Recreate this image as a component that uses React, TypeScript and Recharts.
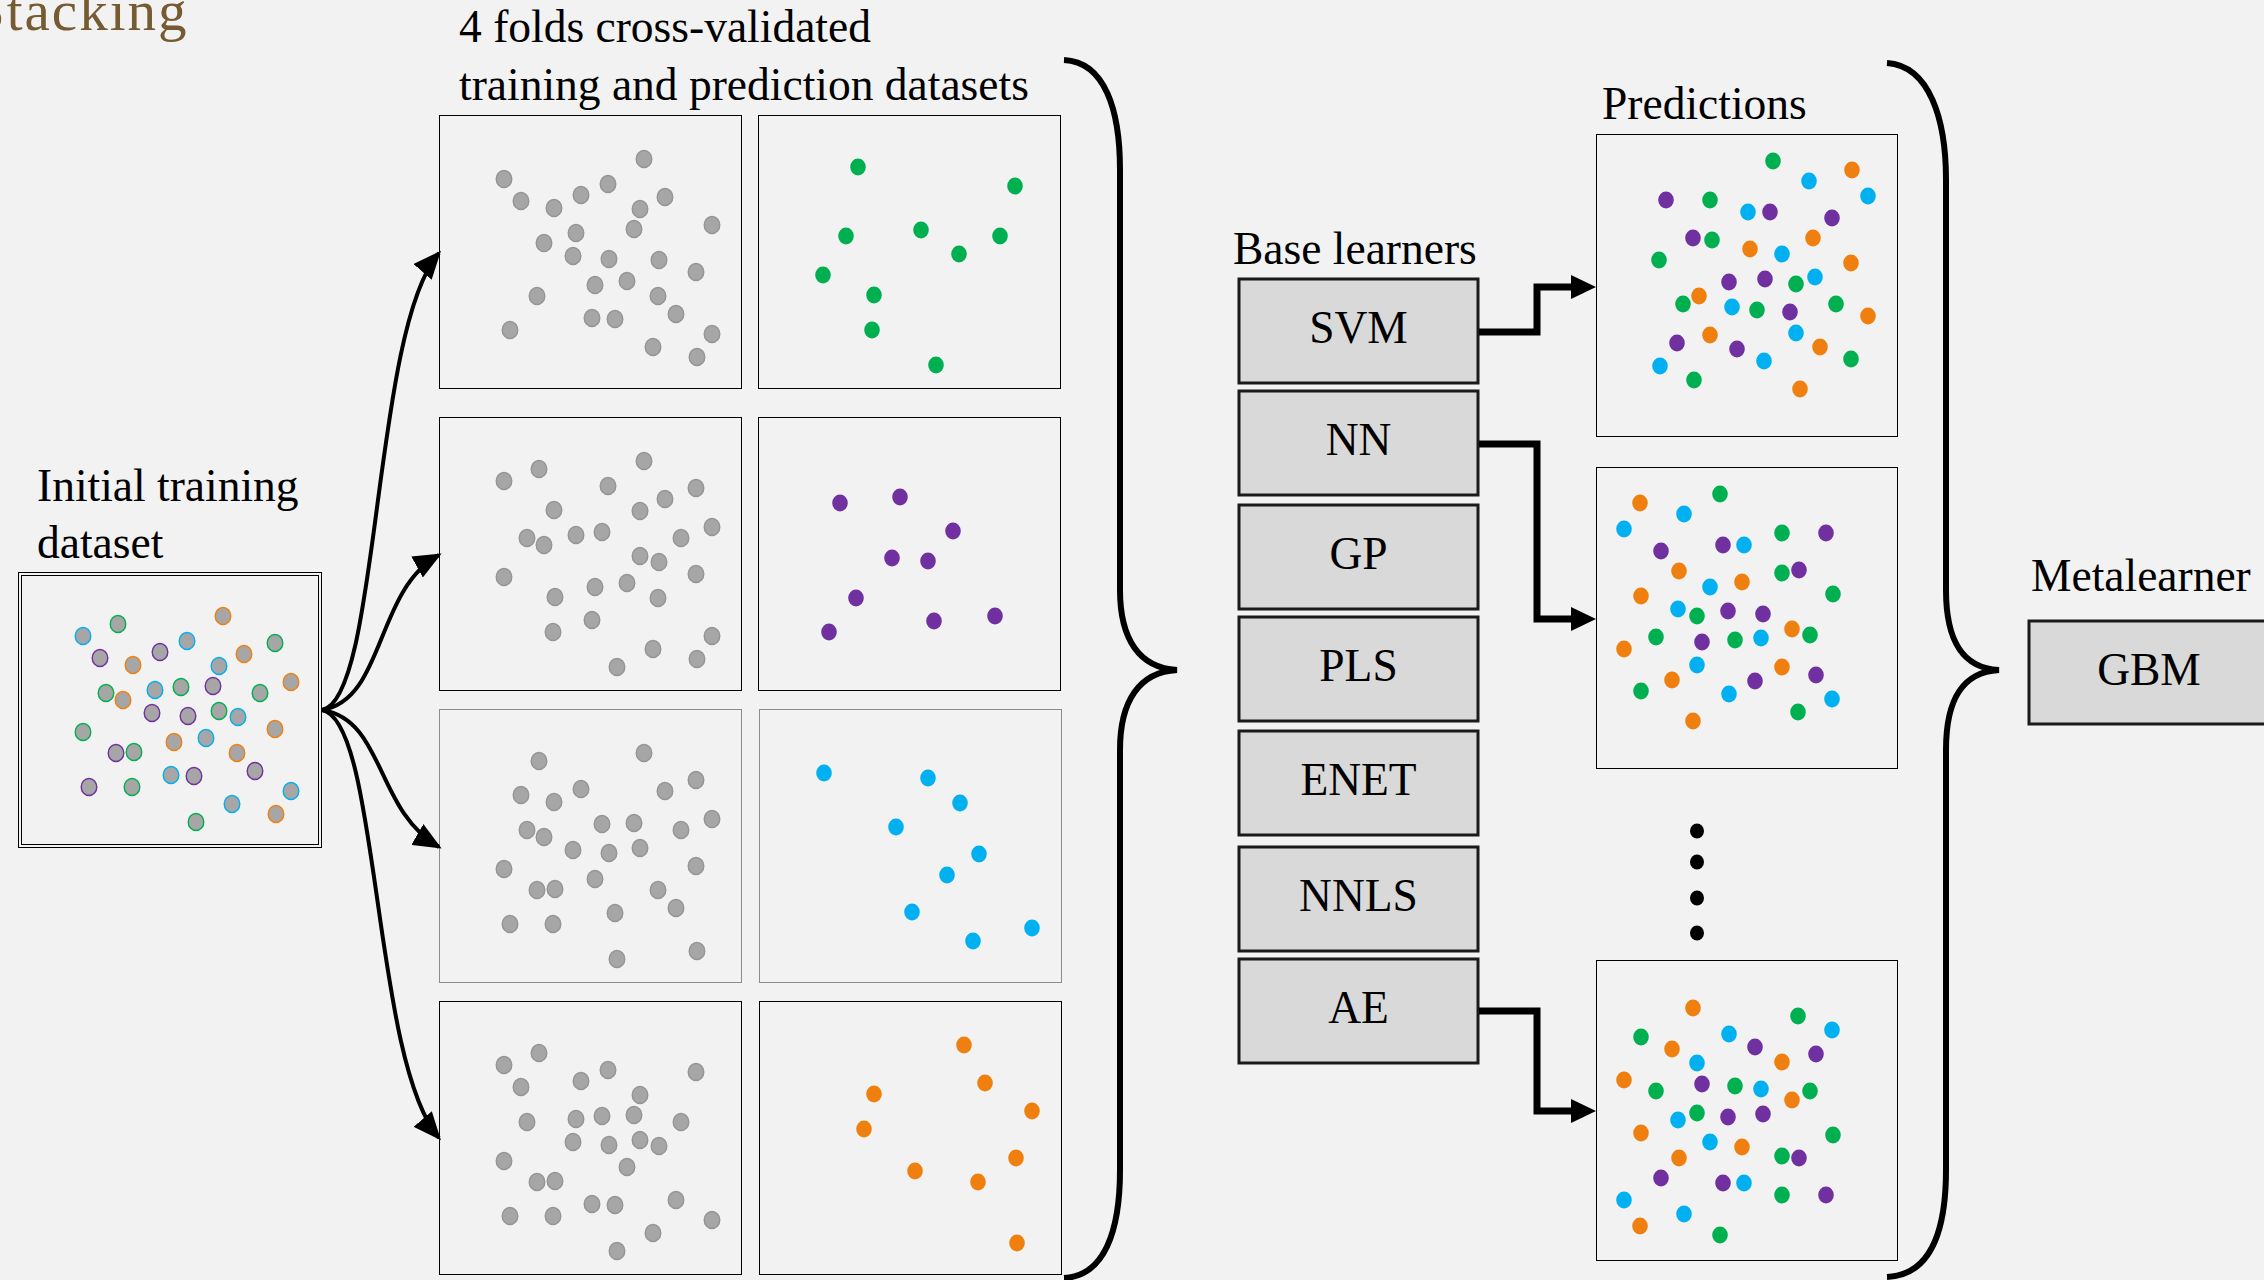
import { ScatterChart, Scatter, XAxis, YAxis } from 'recharts'

type Pt = [number, number]
type CPt = [number, number, string]

// fold members, in panel-local units (x right, y down)
const greenFold: Pt[] = [[100, 52], [257, 71], [88, 121], [163, 115], [242, 121], [201, 139], [65, 160], [116, 180], [114, 215], [178, 250]]
const purpleFold: Pt[] = [[82, 86], [142, 80], [195, 114], [134, 141], [170, 144], [98, 181], [71, 215], [176, 204], [237, 199]]
const blueFold: Pt[] = [[65, 64], [169, 69], [201, 94], [137, 118], [220, 145], [188, 166], [153, 203], [273, 219], [214, 232]]
const orangeFold: Pt[] = [[205, 44], [226, 82], [115, 93], [273, 110], [105, 128], [257, 157], [156, 170], [219, 181], [258, 242]]

// base learner prediction scatters (g/p/b/o = colour group)
const predSVM: CPt[] = [
  [177, 27, 'g'], [256, 36, 'o'], [213, 47, 'b'], [272, 62, 'b'], [70, 66, 'p'], [114, 66, 'g'], [152, 78, 'b'], [174, 78, 'p'],
  [236, 84, 'p'], [97, 104, 'p'], [116, 106, 'g'], [217, 104, 'o'], [154, 115, 'o'], [186, 120, 'b'], [63, 126, 'g'], [255, 129, 'o'],
  [133, 148, 'p'], [169, 145, 'p'], [200, 150, 'g'], [219, 143, 'b'], [103, 162, 'o'], [87, 170, 'g'], [136, 173, 'b'], [161, 176, 'g'],
  [194, 178, 'p'], [240, 170, 'g'], [272, 182, 'o'], [114, 201, 'o'], [200, 199, 'b'], [81, 209, 'p'], [141, 215, 'p'], [224, 213, 'o'],
  [168, 227, 'b'], [255, 225, 'g'], [64, 232, 'b'], [98, 246, 'g'], [204, 255, 'o'],
]
const predNN: CPt[] = [
  [124, 27, 'g'], [44, 36, 'o'], [88, 47, 'b'], [28, 62, 'b'], [186, 66, 'g'], [230, 66, 'p'], [65, 84, 'p'], [127, 78, 'p'],
  [148, 78, 'b'], [83, 104, 'o'], [186, 106, 'g'], [203, 103, 'p'], [146, 115, 'o'], [114, 120, 'b'], [45, 129, 'o'], [237, 127, 'g'],
  [82, 142, 'b'], [101, 149, 'g'], [132, 144, 'p'], [167, 147, 'p'], [196, 162, 'o'], [214, 168, 'g'], [60, 170, 'g'], [106, 175, 'p'],
  [139, 173, 'g'], [165, 171, 'b'], [28, 182, 'o'], [101, 198, 'b'], [186, 200, 'o'], [220, 208, 'p'], [76, 213, 'o'], [159, 214, 'p'],
  [45, 224, 'g'], [133, 227, 'b'], [236, 232, 'b'], [202, 245, 'g'], [97, 254, 'o'],
]
const predAE: CPt[] = [
  [97, 48, 'o'], [202, 56, 'g'], [236, 70, 'b'], [45, 77, 'g'], [133, 74, 'b'], [76, 89, 'o'], [159, 87, 'p'], [101, 103, 'b'],
  [186, 102, 'o'], [220, 94, 'p'], [28, 120, 'o'], [60, 131, 'g'], [106, 124, 'p'], [139, 126, 'g'], [165, 129, 'b'], [196, 140, 'o'],
  [214, 131, 'g'], [82, 160, 'b'], [101, 153, 'g'], [132, 157, 'p'], [167, 154, 'p'], [45, 173, 'o'], [237, 175, 'g'], [114, 182, 'b'],
  [146, 187, 'o'], [83, 198, 'o'], [186, 196, 'g'], [203, 198, 'p'], [65, 218, 'p'], [127, 223, 'p'], [148, 223, 'b'], [28, 240, 'b'],
  [186, 235, 'g'], [230, 235, 'p'], [88, 254, 'b'], [44, 266, 'o'], [124, 275, 'g'],
]

const learners = ['SVM', 'NN', 'GP', 'PLS', 'ENET', 'NNLS', 'AE']

const COL: Record<string, string> = { g: '#00B050', p: '#7030A0', b: '#00B0F0', o: '#EF8010' }
const GRAY = '#A6A6A6'
const FONT = "'Liberation Serif', 'Times New Roman', serif"

const folds = [
  { pts: greenFold, c: 'g' },
  { pts: purpleFold, c: 'p' },
  { pts: blueFold, c: 'b' },
  { pts: orangeFold, c: 'o' },
]

interface Series {
  data: { x: number; y: number }[]
  fill: string
  stroke?: string
}

const toXY = (pts: Pt[]) => pts.map(([x, y]) => ({ x, y }))

function Panel({ x, y, w, h, series, border }: { x: number; y: number; w: number; h: number; series: Series[]; border: string }) {
  return (
    <div style={{ position: 'absolute', left: x, top: y, width: w, height: h }}>
      <ScatterChart width={w} height={h} margin={{ top: 0, right: 0, bottom: 0, left: 0 }}>
        <XAxis type="number" dataKey="x" domain={[0, w]} hide />
        <YAxis type="number" dataKey="y" domain={[0, h]} reversed hide />
        {series.map((s, i) => (
          <Scatter
            key={i}
            data={s.data}
            isAnimationActive={false}
            shape={(p: any) => (
              <ellipse cx={p.cx} cy={p.cy} rx={7.8} ry={8.5} fill={s.fill} stroke={s.stroke ?? 'none'} strokeWidth={1.4} />
            )}
          />
        ))}
      </ScatterChart>
      <div style={{ position: 'absolute', inset: 0, border, pointerEvents: 'none' }} />
    </div>
  )
}

const predSeries = (pts: CPt[]): Series[] =>
  ['g', 'p', 'b', 'o'].map((c) => ({
    data: pts.filter((q) => q[2] === c).map(([x, y]) => ({ x, y })),
    fill: COL[c],
  }))

const rowTops = [115, 417, 709, 1001]
const rightX = [758, 758, 759, 759]
const boxTops = [279, 391, 505, 617, 731, 847, 959]

export default function App() {
  const txt = { fontFamily: FONT, fontSize: 45.5, fill: '#000' }
  return (
    <div style={{ position: 'absolute', left: 0, top: 0, width: 2264, height: 1280, overflow: 'hidden', background: '#F2F2F2' }}>
      {/* initial training dataset */}
      <Panel
        x={18}
        y={572}
        w={304}
        h={276}
        border="4px double #000"
        series={folds.map((f) => ({ data: toXY(f.pts), fill: GRAY, stroke: COL[f.c] }))}
      />
      {/* cross-validation folds */}
      {folds.map((f, i) => {
        const train = folds.filter((_, j) => j !== i).flatMap((g) => g.pts)
        const border = i === 2 ? '1.5px solid #8C8C8C' : '1.5px solid #000'
        return (
          <div key={i}>
            <Panel x={439} y={rowTops[i]} w={303} h={274} border={border} series={[{ data: toXY(train), fill: GRAY, stroke: '#959595' }]} />
            <Panel x={rightX[i]} y={rowTops[i]} w={303} h={274} border={border} series={[{ data: toXY(f.pts), fill: COL[f.c] }]} />
          </div>
        )
      })}
      {/* predictions */}
      <Panel x={1596} y={134} w={302} h={303} border="1.5px solid #000" series={predSeries(predSVM)} />
      <Panel x={1596} y={467} w={302} h={302} border="1.5px solid #000" series={predSeries(predNN)} />
      <Panel x={1596} y={960} w={302} h={301} border="1.5px solid #000" series={predSeries(predAE)} />

      <svg width={2264} height={1280} style={{ position: 'absolute', left: 0, top: 0, pointerEvents: 'none' }}>
        <defs>
          <marker id="ah" markerUnits="userSpaceOnUse" markerWidth={28} markerHeight={24} refX={25} refY={12} orient="auto">
            <path d="M0,0 L28,12 L0,24 Z" fill="#000" />
          </marker>
        </defs>

        <text x={-27} y={30} fontFamily={FONT} fontSize={57} letterSpacing={2} fill="#765A31">Stacking</text>
        <text x={459} y={42} {...txt}>4 folds cross-validated</text>
        <text x={459} y={100} {...txt}>training and prediction datasets</text>
        <text x={37} y={501} {...txt}>Initial training</text>
        <text x={37} y={558} {...txt}>dataset</text>
        <text x={1233} y={264} {...txt}>Base learners</text>
        <text x={1602} y={119} {...txt}>Predictions</text>
        <text x={2031} y={591} {...txt}>Metalearner</text>

        {/* fan-out arrows */}
        {[
          'M322,710 C380,700 372,330 439,253',
          'M322,710 C385,700 375,590 439,555',
          'M322,710 C385,720 375,810 439,847',
          'M322,710 C380,720 372,1060 439,1138',
        ].map((d, i) => (
          <path key={i} d={d} fill="none" stroke="#000" strokeWidth={4} markerEnd="url(#ah)" />
        ))}

        {/* braces */}
        <path
          d="M1064,60 C1105,62 1120,110 1120,170 L1120,590 C1120,640 1140,668 1177,670 C1140,672 1120,700 1120,750 L1120,1170 C1120,1230 1105,1276 1064,1278"
          fill="none"
          stroke="#000"
          strokeWidth={6}
        />
        <path
          d="M1887,63 C1930,66 1946,120 1946,180 L1946,590 C1946,640 1962,668 1999,670 C1962,672 1946,700 1946,750 L1946,1170 C1946,1232 1930,1275 1887,1277"
          fill="none"
          stroke="#000"
          strokeWidth={6}
        />

        {/* base learners */}
        {learners.map((l, i) => (
          <g key={l}>
            <rect x={1239} y={boxTops[i]} width={239} height={104} fill="#D9D9D9" stroke="#1A1A1A" strokeWidth={3} />
            <text x={1358.5} y={boxTops[i] + 64} textAnchor="middle" {...txt}>{l}</text>
          </g>
        ))}

        {/* connectors to prediction panels */}
        {[
          [332, 287],
          [444, 619],
          [1011, 1111],
        ].map(([a, b], i) => (
          <g key={i}>
            <path d={`M1479,${a} H1537 V${b} H1573`} fill="none" stroke="#000" strokeWidth={7} />
            <path d={`M1571,${b - 12} L1596,${b} L1571,${b + 12} Z`} fill="#000" />
          </g>
        ))}

        {/* ellipsis */}
        {[831, 862, 898, 933].map((cy) => (
          <ellipse key={cy} cx={1697} cy={cy} rx={7} ry={7.6} fill="#000" />
        ))}

        {/* metalearner */}
        <rect x={2029} y={621} width={240} height={103} fill="#D9D9D9" stroke="#1A1A1A" strokeWidth={3} />
        <text x={2149} y={685} textAnchor="middle" {...txt}>GBM</text>
      </svg>
    </div>
  )
}
